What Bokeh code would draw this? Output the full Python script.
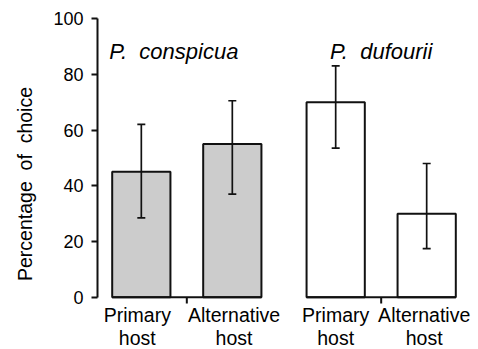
from bokeh.plotting import figure
from bokeh.models import ColumnDataSource, FactorRange, Whisker, TeeHead, FixedTicker, Range1d
from bokeh.transform import dodge
from bokeh.core.properties import value
from bokeh.embed import file_html
from bokeh.resources import INLINE

species = ["P.\u00a0\u00a0conspicua", "P.\u00a0\u00a0dufourii"]
hosts = ["Primary\nhost", "Alternative\nhost"]
means = [[45, 55], [70, 30]]
upper = [[62, 70.5], [83, 48]]
lower = [[28.5, 37], [53.5, 17.5]]
fills = ["#cccccc", "#ffffff"]
y_ticks = [0, 20, 40, 60, 80, 100]

FONT = "Liberation Sans"
BAR_W = 0.64
label_offsets = [-4, 1.7, 0, -2.5]   # screen px nudges of the category labels

x = [(s, h) for s in species for h in hosts]
src = ColumnDataSource(dict(
    x=x,
    host=[h for s in species for h in hosts],
    lab_off=label_offsets,
    top=[v for row in means for v in row],
    upper=[v for row in upper for v in row],
    lower=[v for row in lower for v in row],
    fill=[fills[i] for i in range(len(species)) for _ in hosts],
))
gsrc = ColumnDataSource(dict(g=species, xoff=[-13, 0]))

x_range = FactorRange(*x, factor_padding=0, group_padding=0.136,
                      range_padding=-0.0185, range_padding_units="absolute")

p = figure(x_range=x_range, y_range=Range1d(-18.7, 100), width=478, height=349,
           output_backend="svg", toolbar_location=None,
           min_border_left=97, min_border_right=8, min_border_top=18,
           min_border_bottom=0)
p.outline_line_color = None
p.xgrid.grid_line_color = None
p.ygrid.grid_line_color = None
p.xaxis.visible = False

p.vbar(x="x", top="top", width=BAR_W, source=src, fill_color="fill",
       line_color="#111111", line_width=2)

w = Whisker(base="x", upper="upper", lower="lower", source=src, level="overlay",
            line_color="#111111", line_width=1.7,
            upper_head=TeeHead(size=8, line_width=1.7, line_color="#111111"),
            lower_head=TeeHead(size=8, line_width=1.7, line_color="#111111"))
p.add_layout(w)

off = 0.5 + BAR_W / 2
p.segment(x0=dodge("g", -off, range=x_range), x1=dodge("g", off, range=x_range),
          y0=0, y1=0, source=gsrc, line_color="#111111", line_width=2)
p.segment(x0="g", x1="g", y0=0, y1=-2.2, source=gsrc, line_color="#111111", line_width=2)

p.text(x="g", y=88, text="g", source=gsrc, x_offset="xoff",
       text_align="center", text_baseline="alphabetic",
       text_font=value(FONT), text_font_style="italic", text_font_size="22px",
       text_color="black")

p.text(x="x", y=0, text="host", source=src, x_offset="lab_off", y_offset=7,
       text_align="center", text_baseline="top", text_line_height=1.04,
       text_font=value(FONT), text_font_size="19.5px", text_color="black")

ya = p.yaxis[0]
ya.ticker = FixedTicker(ticks=y_ticks)
ya.bounds = (0, 100)
ya.axis_line_width = 2
ya.axis_line_color = "#111111"
ya.major_tick_line_width = 2
ya.major_tick_line_color = "#111111"
ya.major_tick_in = 0
ya.major_tick_out = 6
ya.minor_tick_line_color = None
ya.major_label_text_font = FONT
ya.major_label_text_font_size = "18px"
ya.major_label_text_color = "black"
ya.major_label_standoff = 8
ya.axis_label = "Percentage\u00a0\u00a0of\u00a0\u00a0choice"
ya.axis_label_text_font = FONT
ya.axis_label_text_font_size = "19.5px"
ya.axis_label_text_font_style = "normal"
ya.axis_label_text_color = "black"
ya.axis_label_standoff = 14

open("out.html", "w").write(file_html(p, INLINE))
